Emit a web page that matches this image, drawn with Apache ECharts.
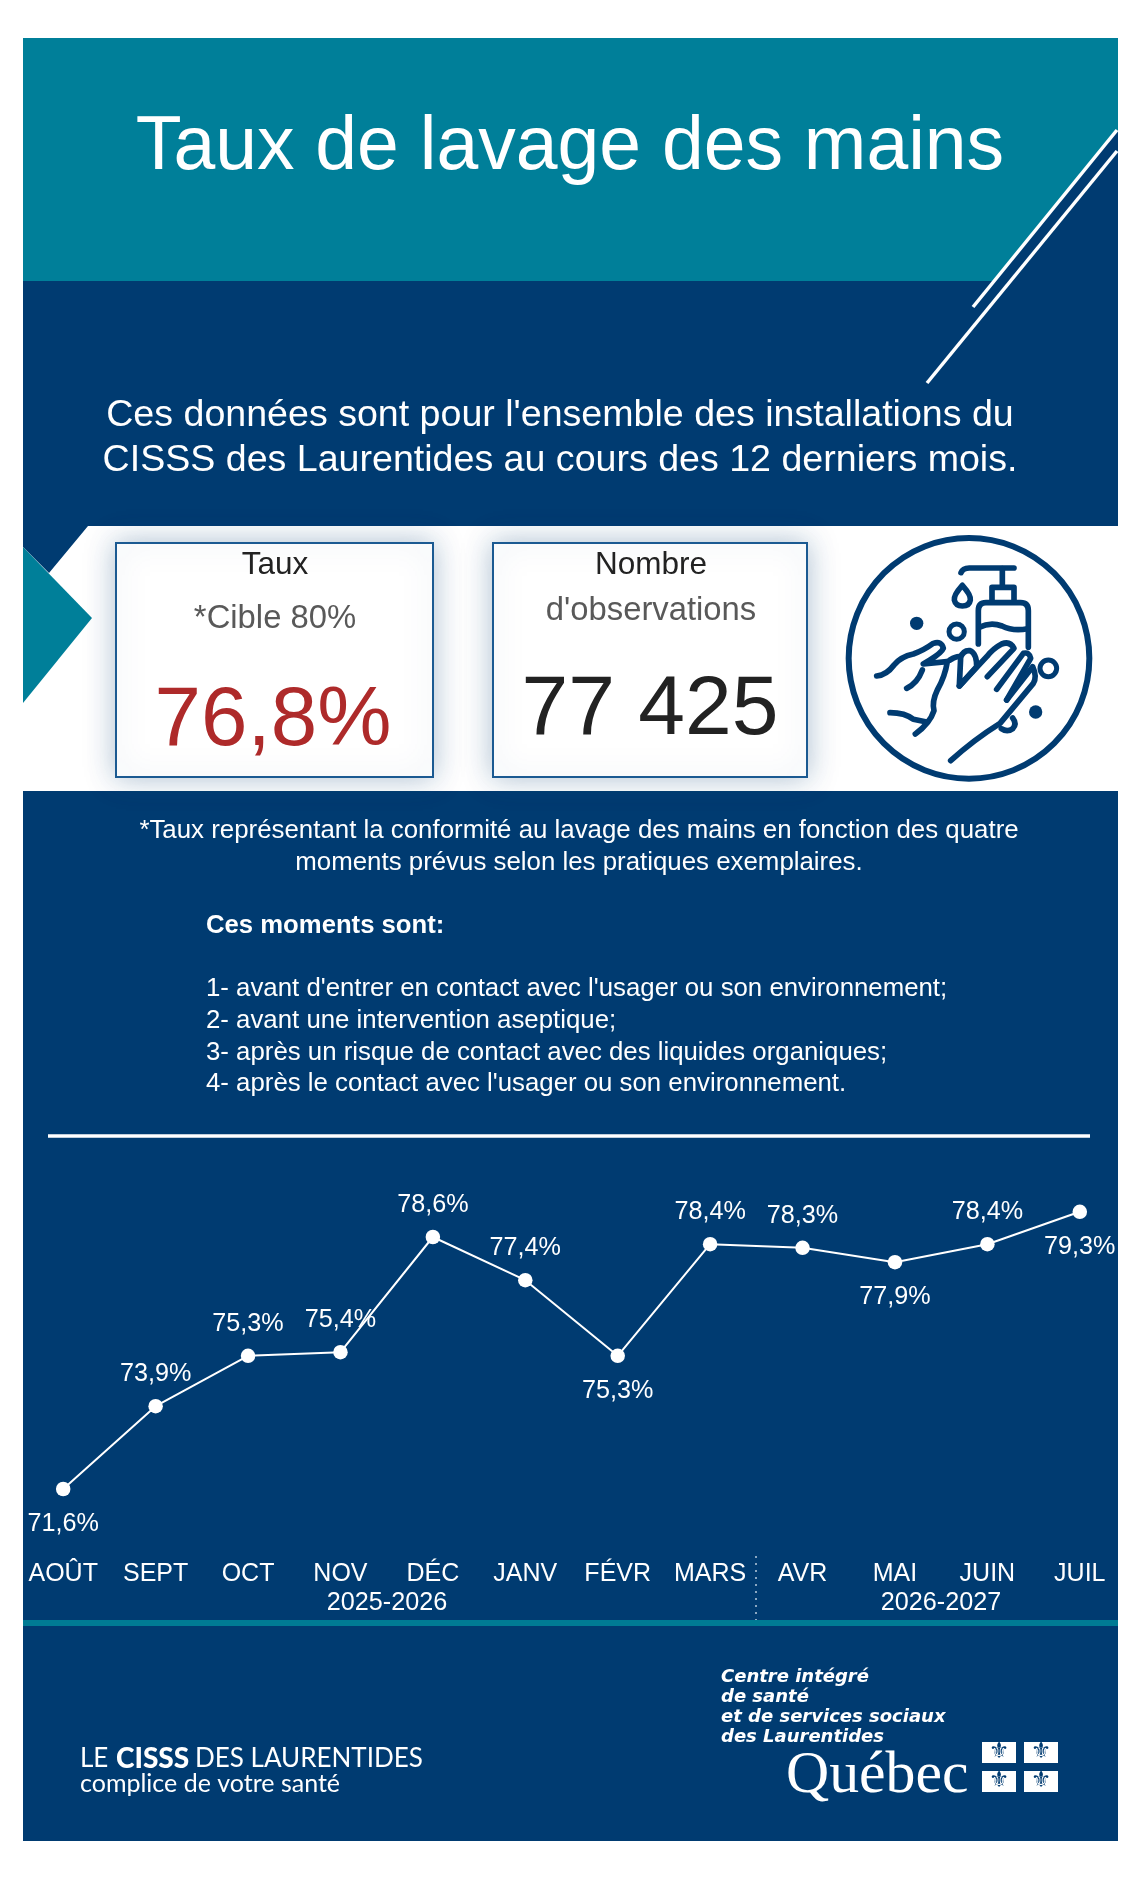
<!DOCTYPE html>
<html lang="fr">
<head>
<meta charset="utf-8">
<title>Taux de lavage des mains</title>
<style>html,body{margin:0;padding:0;background:#fff}#c{width:1140px;height:1878px}</style>
<script src="https://cdn.jsdelivr.net/npm/echarts@6/dist/echarts.min.js"></script>
</head>
<body>
<div id="c"></div>
<script>
const months = ['AOÛT','SEPT','OCT','NOV','DÉC','JANV','FÉVR','MARS','AVR','MAI','JUIN','JUIL'];
const rates = [71.6,73.9,75.3,75.4,78.6,77.4,75.3,78.4,78.3,77.9,78.4,79.3];
const labelSides = ['bottom','top','top','top','top','top','bottom','top','top','bottom','top','bottom'];
const yearLabels = ['2025-2026','2026-2027'];
const NAVY='#003b71', TEAL='#007f99', SANS='"Liberation Sans", Arial, sans-serif';

function poly(points, fill){ return {type:'polygon', shape:{points}, style:{fill}, silent:true}; }
function rect(x,y,width,height,style){ return {type:'rect', shape:{x,y,width,height}, style, silent:true}; }
function line(x1,y1,x2,y2,stroke,lineWidth,extra){ return {type:'line', shape:{x1,y1,x2,y2}, style:Object.assign({stroke,lineWidth},extra||{}), silent:true}; }
function text(t,x,y,size,fill,opt){ opt=opt||{};
  return {type:'text', silent:true, z:opt.z||5, style:{text:t,x,y,fill,textAlign:opt.align||'center',textVerticalAlign:'middle',
    font:(opt.weight?opt.weight+' ':'')+size+'px '+(opt.family||SANS)}};
}
// icon strokes, drawn in a 3x local space
let shapeCount = 0;
function ip(d){
  const name = 'iconStroke' + (shapeCount++);
  echarts.graphic.registerShape(name, echarts.graphic.extendPath(d, {}));
  return {type:name, silent:true, style:{fill:null,stroke:NAVY,lineWidth:17,lineCap:'round',lineJoin:'round'}};
}
const iconChildren = [
  {type:'circle',shape:{cx:417,cy:415,r:361},style:{fill:'#fff',stroke:NAVY,lineWidth:18},silent:true},
  ip('M393 158 Q398 145 418 144 L552 144'),
  ip('M517 146 L517 200'),
  ip('M486 242 L486 202 L552 202 L552 242'),
  ip('M445 372 L445 272 Q445 248 468 248 L572 248 Q595 248 595 272 L595 382'),
  ip('M447 322 Q482 305 516 318 Q550 335 593 326'),
  ip('M397 196 Q370 226 373 240 Q377 258 397 258 Q418 258 421 240 Q424 226 397 196 Z'),
  {type:'circle',shape:{cx:260,cy:310,r:20},silent:true,style:{fill:NAVY}},
  {type:'circle',shape:{cx:380,cy:335,r:23},style:{fill:null,stroke:NAVY,lineWidth:15},silent:true},
  {type:'circle',shape:{cx:655,cy:445,r:25},style:{fill:null,stroke:NAVY,lineWidth:15},silent:true},
  {type:'circle',shape:{cx:617,cy:576,r:20},style:{fill:NAVY},silent:true},
  ip('M548 594 Q562 612 548 626 Q532 638 514 626'),
  ip('M140 468 Q170 465 192 435 Q212 410 250 402 Q280 392 310 370 Q335 362 340 385 Q335 398 300 420 L280 432 L350 425'),
  ip('M230 505 Q262 490 277 450'),
  ip('M352 425 Q345 470 322 510 Q305 545 312 572 Q300 610 256 642'),
  ip('M180 578 Q225 578 250 598 L290 606'),
  ip('M360 420 Q385 405 392 412 L388 498 L440 440 Q440 400 420 392 Q400 390 392 412'),
  ip('M388 498 L470 410 Q490 385 515 372 Q540 362 552 385 L472 470'),
  ip('M500 508 L580 400 Q598 395 602 415 L530 540'),
  ip('M530 540 L608 440 Q622 470 610 490 L510 610 Q430 660 362 722')
];
const boxStyle = {fill:'#fff',stroke:'#1b5a92',lineWidth:2,shadowBlur:28,shadowColor:'rgba(30,80,130,.35)'};
const LOGO = 'Lato, sans-serif', CIUSSS = '"DejaVu Sans", sans-serif';

const graphicEls = [
  rect(23,38,1095,1803,{fill:NAVY}),
  poly([[23,38],[1118,38],[1118,130],[994,281],[23,281]],TEAL),
  line(973,307,1117,130,'#fff',3.5),
  line(927,383,1117,151,'#fff',3.5),
  poly([[88,526],[1118,526],[1118,791],[23,791],[23,703],[23,547],[49,573]],'#fff'),
  poly([[23,547],[92,618],[23,703]],TEAL),
  rect(116,543,317,234,boxStyle),
  rect(493,543,314,234,boxStyle),
  {type:'group', x:830, y:520, scaleX:1/3, scaleY:1/3, children:iconChildren},

  text('Taux de lavage des mains',570,148,75.1,'#fff'),
  text("Ces données sont pour l'ensemble des installations du",560,416,37.6,'#fff'),
  text('CISSS des Laurentides au cours des 12 derniers mois.',560,461,37.6,'#fff'),

  text('Taux',275,565,31.5,'#222'),
  text('*Cible 80%',275,619,32.8,'#595959'),
  text('76,8%',273,722,83.5,'#ae2a2a'),
  text('Nombre',651,565,31.5,'#222'),
  text("d'observations",651,611,32.8,'#595959'),
  text('77 425',650,711,84,'#222'),

  text('*Taux représentant la conformité au lavage des mains en fonction des quatre',579,830.5,25.85,'#fff'),
  text('moments prévus selon les pratiques exemplaires.',579,862.5,25.85,'#fff'),
  text('Ces moments sont:',206,926,25.7,'#fff',{align:'left',weight:'bold'}),
  text("1- avant d'entrer en contact avec l'usager ou son environnement;",206,989,25.8,'#fff',{align:'left'}),
  text('2- avant une intervention aseptique;',206,1021,25.8,'#fff',{align:'left'}),
  text('3- après un risque de contact avec des liquides organiques;',206,1053,25.8,'#fff',{align:'left'}),
  text("4- après le contact avec l'usager ou son environnement.",206,1084,25.8,'#fff',{align:'left'}),
  line(48,1136,1090,1136,'#fff',3.5),

  line(756,1556,756,1620,'#b9cbdb',1.5,{lineDash:[2,5]}),
  text(yearLabels[0],387,1603,25.2,'#fff'),
  text(yearLabels[1],941,1603,25.2,'#fff'),
  rect(23,1620,1095,6,{fill:'#007b94'}),

  text('LE',80,1759,26,'#fff',{align:'left',family:LOGO}),
  text('CISSS',116,1759,28,'#fff',{align:'left',family:LOGO,weight:'900'}),
  text('DES LAURENTIDES',195,1759,26,'#fff',{align:'left',family:LOGO}),
  text('complice de votre santé',80,1784,25,'#fff',{align:'left',family:LOGO}),

  text('Centre intégré',721,1677.5,18,'#fff',{align:'left',family:CIUSSS,weight:'italic bold'}),
  text('de santé',721,1697.5,18,'#fff',{align:'left',family:CIUSSS,weight:'italic bold'}),
  text('et de services sociaux',721,1717.5,18,'#fff',{align:'left',family:CIUSSS,weight:'italic bold'}),
  text('des Laurentides',721,1737.5,18,'#fff',{align:'left',family:CIUSSS,weight:'italic bold'}),
  text('Québec',786,1776,59.8,'#fff',{align:'left',family:'"Liberation Serif", serif'})
];
[[982,1742],[1024,1742],[982,1771],[1024,1771]].forEach(p=>{
  graphicEls.push(rect(p[0],p[1],34,21,{fill:'#fff'}));
  graphicEls.push(text('\u269C',p[0]+17,p[1]+10.5,23,NAVY,{family:CIUSSS,z:6}));
});

const chart = echarts.init(document.getElementById('c'), null, {width:1140,height:1878,renderer:'canvas'});
chart.setOption({
  animation:false,
  backgroundColor:'#fff',
  graphic:{elements:graphicEls},
  grid:{left:17,right:14,top:1186.6,bottom:331.4},
  xAxis:{type:'category',data:months,boundaryGap:true,
    axisLine:{show:false},axisTick:{show:false},splitLine:{show:false},
    axisLabel:{interval:0,color:'#fff',fontSize:25,fontFamily:SANS,margin:15}},
  yAxis:{type:'value',min:70,max:80,interval:2,show:false},
  series:[{type:'line',z:10,
    data:rates.map((v,i)=>({value:v,label:{position:labelSides[i],distance:labelSides[i]==='top'?12:15.5}})),
    symbol:'circle',symbolSize:14.5,showSymbol:true,
    lineStyle:{color:'#fff',width:2},itemStyle:{color:'#fff'},
    label:{show:true,color:'#fff',fontSize:25.2,fontFamily:SANS,
      formatter:p=>p.value.toFixed(1).replace('.',',')+'%'}}]
});
</script>
</body>
</html>
